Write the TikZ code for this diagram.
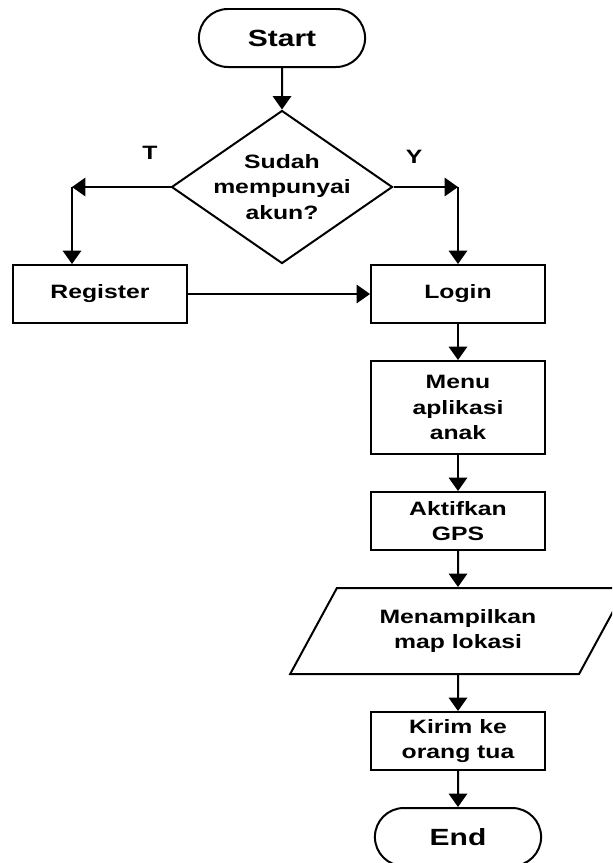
\documentclass[tikz,border=0pt]{standalone}
\usepackage{fontspec}
\setmainfont{Liberation Sans}[FakeStretch=1.28]
\usetikzlibrary{arrows.meta,positioning,shapes.geometric,shapes.misc}
\tikzset{>={Triangle[length=0.4cm,width=0.55cm]}}

\begin{document}
\begin{tikzpicture}[x=0.03cm, y=-0.03cm, line width=1.7pt]
        % proc = plain step box, term = start/end, io = input/output
        \tikzstyle{every node}=[font=\fontsize{16.5}{21.5}\selectfont\bfseries, align=center]
        \tikzstyle{proc}=[rectangle, draw=black, minimum width=5.22cm, minimum height=1.74cm, inner sep=0pt]
        \tikzstyle{term}=[rounded rectangle, draw=black, minimum width=5.22cm, minimum height=1.74cm, font=\fontsize{20}{24}\selectfont\bfseries]
        \tikzstyle{decision}=[diamond, draw=black, minimum width=6.63cm, minimum height=4.59cm, inner sep=0pt]
        \tikzstyle{io}=[trapezium, trapezium left angle=55, trapezium right angle=125, trapezium stretches=true, draw=black, minimum width=10.08cm, minimum height=2.58cm, inner sep=0pt]
        \clip (0,0) rectangle (612,863);
        \node[term] (start) at (282,38) {Start};
        \node[decision] (dec) at (282,187) {};
        \node (decq) at (dec) {Sudah\\mempunyai\\akun?};
        \node[proc] (reg) at (100,294) {Register};
        \node[proc] (login) at (458,294) {Login};
        \node[proc, minimum height=2.79cm, below=1.08cm of login] (menu) {Menu\\aplikasi\\anak};
        \node[proc, below=1.08cm of menu] (gps) {Aktifkan\\GPS};
        \node[io, below=1.08cm of gps] (map) {Menampilkan\\map lokasi};
        \node[proc, below=1.08cm of map] (kirim) {Kirim ke\\orang tua};
        \node[term, below=1.08cm of kirim] (end) {End};
        \node (lblT) at (150,153) {T};
        \node (lblY) at (414,157) {Y};
        \coordinate (tl) at (72,187);
        \coordinate (tr) at (dec.east -| login.north);
        \draw[->] (start) -- (dec);
        \draw[->] (dec.west) -- (tl);
        \draw[->] (tl) -- (tl |- reg.north);
        \draw[->] (dec.east) -- (tr);
        \draw[->] (tr) -- (login.north);
        \draw[->] (reg) -- (login);
        \draw[->] (login) -- (menu);
        \draw[->] (menu) -- (gps);
        \draw[->] (gps) -- (map);
        \draw[->] (map) -- (kirim);
        \draw[->] (kirim) -- (end);
\end{tikzpicture}
\end{document}
